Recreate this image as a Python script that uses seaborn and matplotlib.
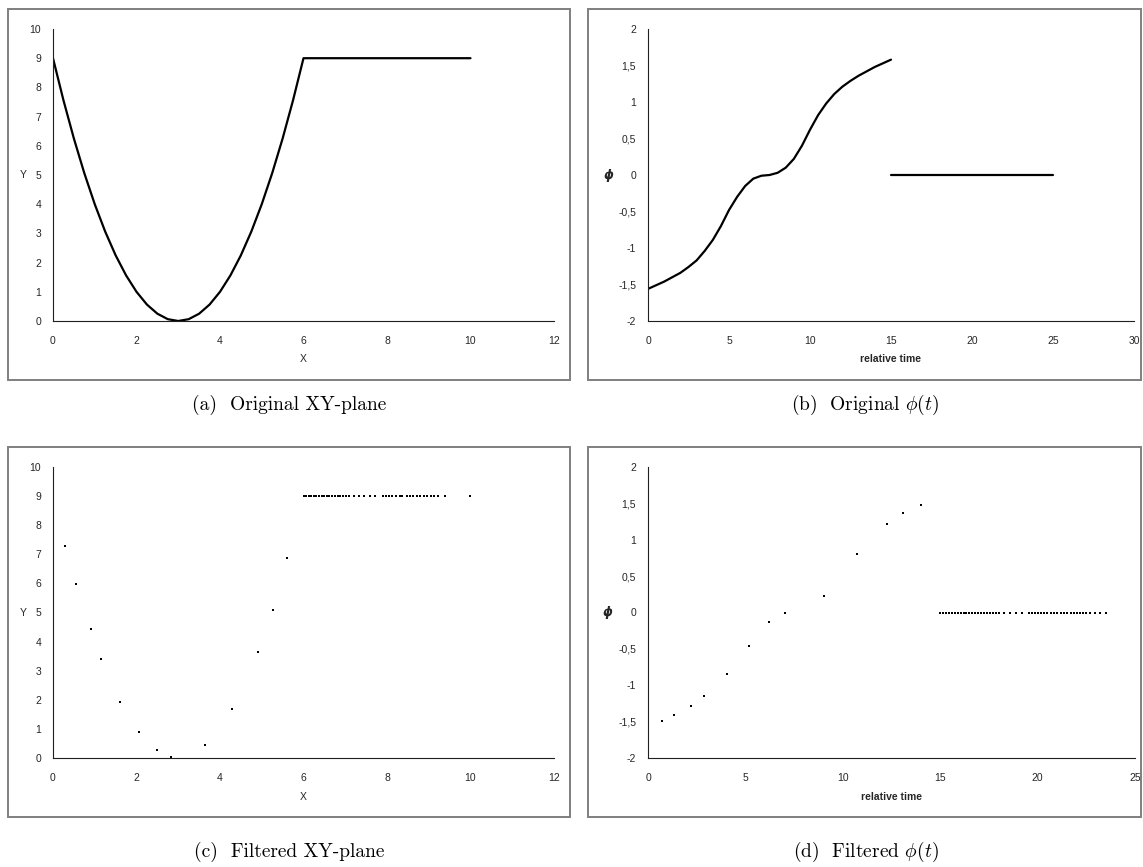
import numpy as np
import pandas as pd
import matplotlib
matplotlib.use("Agg")
import matplotlib.pyplot as plt
from matplotlib.patches import Rectangle
from matplotlib.ticker import FuncFormatter, MultipleLocator
import seaborn as sns

# ---------------- data ----------------
# (a) original XY-plane path
xy_x = [0, 0.25, 0.5, 0.75, 1, 1.25, 1.5, 1.75, 2, 2.25, 2.5, 2.75, 3,
        3.25, 3.5, 3.75, 4, 4.25, 4.5, 4.75, 5, 5.25, 5.5, 5.75, 6, 10]
xy_y = [9, 7.5625, 6.25, 5.0625, 4, 3.0625, 2.25, 1.5625, 1, 0.5625, 0.25, 0.0625, 0,
        0.0625, 0.25, 0.5625, 1, 1.5625, 2.25, 3.0625, 4, 5.0625, 6.25, 7.5625, 9, 9]

# (b) original phi(t)
phi_t = [0, 0.5, 1, 1.5, 2, 2.5, 3, 3.5, 4, 4.5, 5, 5.5, 6, 6.5, 7, 7.5, 8,
         8.5, 9, 9.5, 10, 10.5, 11, 11.5, 12, 12.5, 13, 13.5, 14, 14.5, 15]
phi_v = [-1.56, -1.51, -1.46, -1.40, -1.34, -1.26, -1.17, -1.04, -0.89, -0.70,
         -0.48, -0.30, -0.15, -0.05, -0.01, 0.00, 0.03, 0.10, 0.22, 0.40,
         0.62, 0.82, 0.98, 1.11, 1.21, 1.29, 1.36, 1.42, 1.48, 1.53, 1.58]
phi_rest_t = [15, 25]
phi_rest_v = [0, 0]

# (c) filtered XY-plane
fxy_x = [0.29, 0.54, 0.90, 1.16, 1.60, 2.06, 2.49, 2.82, 3.64, 4.28, 4.90, 5.26, 5.60,
         6.0, 6.06, 6.12, 6.18, 6.25, 6.31, 6.37, 6.44, 6.5, 6.56, 6.62, 6.69, 6.75,
         6.82, 6.88, 6.95, 7.02, 7.08, 7.2, 7.33, 7.46, 7.59, 7.72,
         7.9, 7.97, 8.05, 8.12, 8.22, 8.3, 8.37, 8.47, 8.54, 8.62, 8.72, 8.8, 8.88,
         8.97, 9.05, 9.12, 9.22, 9.4, 9.98]
fxy_y = [7.30, 5.97, 4.42, 3.39, 1.92, 0.90, 0.27, 0.05, 0.44, 1.70, 3.63, 5.08, 6.86,
         9, 9, 9, 9, 9, 9, 9, 9, 9, 9, 9, 9, 9,
         9, 9, 9, 9, 9, 9, 9, 9, 9, 9,
         9, 9, 9, 9, 9, 9, 9, 9, 9, 9, 9, 9, 9,
         9, 9, 9, 9, 9, 9]

# (d) filtered phi(t)
fphi_t = [0.72, 1.34, 2.21, 2.87, 4.08, 5.18, 6.22, 7.03, 9.06, 10.72, 12.25, 13.10, 14.01,
          15.0, 15.15, 15.3, 15.45, 15.6, 15.75, 15.9, 16.05, 16.2, 16.35, 16.5, 16.65,
          16.8, 16.95, 17.1, 17.25, 17.4, 17.55, 17.7, 17.85, 18.0,
          18.3, 18.6, 18.9, 19.2,
          19.55, 19.7, 19.85, 20.0, 20.2, 20.35, 20.5, 20.7, 20.85, 21.0, 21.2, 21.35,
          21.5, 21.7, 21.85, 22.0, 22.2, 22.35, 22.5, 22.7, 22.95, 23.2, 23.5]
fphi_v = [-1.49, -1.41, -1.28, -1.15, -0.85, -0.46, -0.13, 0.00, 0.23, 0.80, 1.22, 1.37, 1.48,
          0, 0, 0, 0, 0, 0, 0, 0, 0, 0, 0, 0,
          0, 0, 0, 0, 0, 0, 0, 0, 0,
          0, 0, 0, 0,
          0, 0, 0, 0, 0, 0, 0, 0, 0, 0, 0, 0,
          0, 0, 0, 0, 0, 0, 0, 0, 0, 0, 0]

captions = ["(a)  Original XY-plane", r"(b)  Original $\phi(t)$",
            "(c)  Filtered XY-plane", r"(d)  Filtered $\phi(t)$"]

# ---------------- style ----------------
sns.set_style("white")
plt.rcParams["font.family"] = ["Liberation Sans", "DejaVu Sans"]
plt.rcParams["mathtext.fontset"] = "cm"

W, H = 1143, 867
fig = plt.figure(figsize=(W / 100, H / 100), dpi=100)


def add_axes(l, r, t, b):
    return fig.add_axes([l / W, 1 - b / H, (r - l) / W, (b - t) / H])


def frame(l, r, t, b):
    fig.patches.append(Rectangle((l / W, 1 - b / H), (r - l) / W, (b - t) / H,
                                 transform=fig.transFigure, fill=False,
                                 edgecolor="#7f7f7f", linewidth=1.4, zorder=0))


comma = FuncFormatter(lambda v, _: ("%g" % v).replace(".", ","))

TICK = dict(labelsize=7.5, labelcolor="#262626", direction="out", length=3.5,
            width=0.8, color="#202020", pad=5)


def style(ax, xlim, ylim, xstep, ystep):
    ax.set_xlim(*xlim)
    ax.set_ylim(*ylim)
    ax.xaxis.set_major_locator(MultipleLocator(xstep))
    ax.yaxis.set_major_locator(MultipleLocator(ystep))
    ax.xaxis.set_major_formatter(comma)
    ax.yaxis.set_major_formatter(comma)
    for s in ["top", "right"]:
        ax.spines[s].set_visible(False)
    for s in ["left", "bottom"]:
        ax.spines[s].set_color("#202020")
        ax.spines[s].set_linewidth(0.8)
    ax.tick_params(axis="both", **TICK)
    ax.tick_params(axis="x", pad=7)
    ax.set_facecolor("white")
    ax.patch.set_alpha(0)


frame(8, 570, 9, 380)
frame(588, 1141, 9, 380)
frame(8, 570, 447, 817)
frame(588, 1141, 447, 817)

# (a)
ax1 = add_axes(53, 554, 29, 321)
sns.lineplot(x=xy_x, y=xy_y, ax=ax1, color="black", linewidth=1.6, sort=False)
style(ax1, (0, 12), (0, 10), 2, 1)
ax1.set_xlabel("X", fontsize=7.5, color="#262626")
ax1.set_ylabel("Y", fontsize=7.5, color="#262626", rotation=0)
ax1.xaxis.set_label_coords(0.5, -0.13)
ax1.xaxis.label.set_va("center")
ax1.yaxis.set_label_coords(-0.06, 0.5)
ax1.yaxis.label.set_va("center")

# (b)
ax2 = add_axes(648, 1134, 29, 321)
sns.lineplot(x=phi_t, y=phi_v, ax=ax2, color="black", linewidth=1.6, sort=False)
sns.lineplot(x=phi_rest_t, y=phi_rest_v, ax=ax2, color="black", linewidth=1.6, sort=False)
style(ax2, (0, 30), (-2, 2), 5, 0.5)
ax2.set_xlabel("relative time", fontsize=7.5, fontweight="bold", color="#262626")
ax2.set_ylabel("ϕ", fontsize=9, fontweight="bold", fontstyle="italic",
               color="#262626", rotation=0, family=["DejaVu Sans"])
ax2.xaxis.set_label_coords(0.5, -0.13)
ax2.xaxis.label.set_va("center")
ax2.yaxis.set_label_coords(-0.082, 0.5)
ax2.yaxis.label.set_va("center")

# (c)
ax3 = add_axes(53, 554, 467, 758)
sns.scatterplot(x=fxy_x, y=fxy_y, ax=ax3, color="black", marker="s", s=2.2,
                linewidth=0)
style(ax3, (0, 12), (0, 10), 2, 1)
ax3.set_xlabel("X", fontsize=7.5, color="#262626")
ax3.set_ylabel("Y", fontsize=7.5, color="#262626", rotation=0)
ax3.xaxis.set_label_coords(0.5, -0.135)
ax3.xaxis.label.set_va("center")
ax3.yaxis.set_label_coords(-0.06, 0.5)
ax3.yaxis.label.set_va("center")

# (d)
ax4 = add_axes(648, 1135, 467, 758)
sns.scatterplot(x=fphi_t, y=fphi_v, ax=ax4, color="black", marker="s", s=2.2,
                linewidth=0)
style(ax4, (0, 25), (-2, 2), 5, 0.5)
ax4.set_xlabel("relative time", fontsize=7.5, fontweight="bold", color="#262626")
ax4.set_ylabel("ϕ", fontsize=9, fontweight="bold", fontstyle="italic",
               color="#262626", rotation=0, family=["DejaVu Sans"])
ax4.xaxis.set_label_coords(0.5, -0.135)
ax4.xaxis.label.set_va("center")
ax4.yaxis.set_label_coords(-0.082, 0.5)
ax4.yaxis.label.set_va("center")

# captions
cap_pos = [(289, 405), (865, 405), (289, 852), (866, 852)]
for (cx, cy), txt in zip(cap_pos, captions):
    fig.text(cx / W, 1 - cy / H, txt, ha="center", va="center", fontsize=14,
             family=["cmr10", "DejaVu Serif"], color="black")

fig.savefig("out.png", dpi=100, facecolor="white")
